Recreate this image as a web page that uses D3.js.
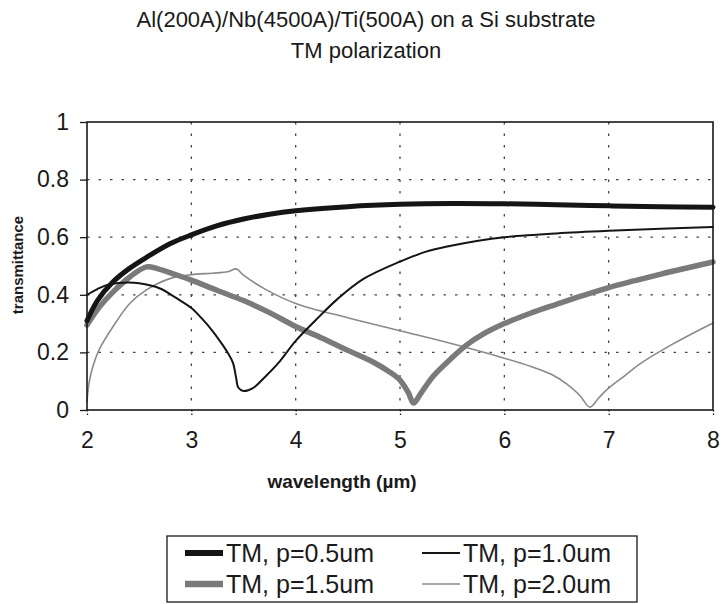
<!DOCTYPE html>
<html><head><meta charset="utf-8">
<script src="https://cdn.jsdelivr.net/npm/d3@7/dist/d3.min.js"></script>
<style>body{margin:0;background:#fff;} svg{display:block;font-family:"Liberation Sans",Arial,sans-serif;}</style>
</head><body>
<svg id="c" width="723" height="604"></svg>
<script>
// ---- data ----
const titleLines = ["Al(200A)/Nb(4500A)/Ti(500A) on a Si substrate", "TM polarization"];
const xTicks = [2, 3, 4, 5, 6, 7, 8];
const yTicks = [0, 0.2, 0.4, 0.6, 0.8, 1];
const yTickLabels = ["0", "0.2", "0.4", "0.6", "0.8", "1"];
const seriesNames = ["TM, p=0.5um", "TM, p=1.0um", "TM, p=1.5um", "TM, p=2.0um"];

const w05 = [2.0, 2.1, 2.25, 2.4, 2.57, 2.8, 3.0, 3.25, 3.5, 3.75, 4.0, 4.5, 5.0, 5.5, 6.0, 6.5, 7.0, 7.5, 8.0];
const t05 = [0.31, 0.38, 0.445, 0.49, 0.53, 0.578, 0.608, 0.64, 0.663, 0.68, 0.692, 0.706, 0.714, 0.717, 0.716, 0.713, 0.709, 0.706, 0.704];

const w10 = [2.0, 2.1, 2.2, 2.35, 2.5, 2.7, 2.85, 3.0, 3.1, 3.2, 3.3, 3.36, 3.4, 3.43, 3.45, 3.5, 3.59, 3.72, 3.85, 4.0, 4.2, 4.4, 4.65, 5.0, 5.25, 5.5, 5.75, 6.0, 6.5, 7.0, 7.5, 8.0];
const t10 = [0.40, 0.42, 0.435, 0.442, 0.44, 0.422, 0.39, 0.354, 0.318, 0.276, 0.226, 0.192, 0.163, 0.110, 0.078, 0.066, 0.076, 0.12, 0.17, 0.24, 0.315, 0.385, 0.455, 0.515, 0.55, 0.571, 0.588, 0.60, 0.613, 0.622, 0.629, 0.635];

const w15 = [2.0, 2.12, 2.25, 2.41, 2.57, 2.68, 2.85, 3.0, 3.25, 3.5, 3.75, 4.0, 4.25, 4.5, 4.75, 4.9, 5.0, 5.08, 5.13, 5.2, 5.32, 5.5, 5.64, 5.8, 6.0, 6.25, 6.5, 6.75, 7.0, 7.25, 7.5, 7.75, 8.0];
const t15 = [0.295, 0.358, 0.41, 0.462, 0.497, 0.49, 0.47, 0.451, 0.415, 0.38, 0.338, 0.29, 0.25, 0.207, 0.165, 0.132, 0.104, 0.06, 0.024, 0.058, 0.118, 0.182, 0.226, 0.264, 0.30, 0.336, 0.367, 0.397, 0.425, 0.449, 0.472, 0.493, 0.514];

const w20 = [2.0, 2.02, 2.06, 2.12, 2.25, 2.41, 2.57, 2.8, 3.0, 3.2, 3.35, 3.43, 3.5, 3.72, 4.0, 4.5, 5.0, 5.5, 6.0, 6.25, 6.45, 6.6, 6.72, 6.82, 6.9, 6.98, 7.15, 7.3, 7.6, 8.0];
const t20 = [0.03, 0.095, 0.155, 0.212, 0.29, 0.37, 0.417, 0.457, 0.47, 0.475, 0.48, 0.49, 0.468, 0.417, 0.37, 0.32, 0.275, 0.23, 0.18, 0.152, 0.124, 0.09, 0.052, 0.01, 0.04, 0.07, 0.118, 0.16, 0.226, 0.302];

// ---- build ----
const svg = d3.select("#c");
const L = 87, R = 713, T = 122, B = 410;
const x = d3.scaleLinear().domain([2, 8]).range([L, R]);
const y = d3.scaleLinear().domain([0, 1]).range([B, T]);
const ink = "#1a1a1a";

// title
svg.append("g").selectAll("text").data(titleLines).join("text")
  .attr("x", 366).attr("y", (d, i) => 27 + i * 31)
  .attr("text-anchor", "middle").attr("font-size", 22).attr("fill", ink).text(d => d);

// grid
const grid = svg.append("g").attr("stroke", "#444").attr("stroke-width", 1.3).attr("stroke-dasharray", "2.5,9");
grid.selectAll("line.h").data(yTicks.filter(v => v > 0 && v < 1)).join("line")
  .attr("x1", L).attr("x2", R).attr("y1", d => y(d)).attr("y2", d => y(d));
grid.selectAll("line.v").data(xTicks.filter(v => v > 2 && v < 8)).join("line")
  .attr("x1", d => x(d)).attr("x2", d => x(d)).attr("y1", T).attr("y2", B);

// axes
const yAxis = d3.axisLeft(y).tickValues(yTicks).tickSize(7).tickPadding(11)
  .tickFormat((d, i) => yTickLabels[i]);
const gy = svg.append("g").attr("transform", `translate(${L},0)`).call(yAxis);
gy.select(".domain").remove();
gy.selectAll(".tick line").attr("stroke", ink).attr("stroke-width", 1.3);
gy.selectAll("text").attr("font-size", 23).attr("fill", ink).attr("font-family", "Liberation Sans, Arial, sans-serif");

const xAxis = d3.axisBottom(x).tickValues(xTicks).tickSize(5).tickPadding(17).tickFormat(d3.format("d"));
const gx = svg.append("g").attr("transform", `translate(0,${B})`).call(xAxis);
gx.select(".domain").remove();
gx.selectAll(".tick line").attr("stroke", ink).attr("stroke-width", 1.3).attr("stroke-dasharray", "1.5,2");
gx.selectAll("text").attr("font-size", 23).attr("fill", ink).attr("font-family", "Liberation Sans, Arial, sans-serif");

// series
const series = [
  {w: w05, t: t05, color: "#151515", width: 5},
  {w: w10, t: t10, color: "#151515", width: 2},
  {w: w15, t: t15, color: "#7a7a7a", width: 5.5},
  {w: w20, t: t20, color: "#8a8a8a", width: 1.6}
];
const line = d3.line().x(d => x(d[0])).y(d => y(d[1])).curve(d3.curveCatmullRom.alpha(0.5));
const lg = svg.append("g").attr("fill", "none").attr("stroke-linejoin", "round").attr("stroke-linecap", "round");
[3, 2, 1, 0].forEach(i => {
  const s = series[i];
  lg.append("path").datum(s.w.map((v, k) => [v, s.t[k]]))
    .attr("d", line).attr("stroke", s.color).attr("stroke-width", s.width);
});

// frame
svg.append("rect").attr("x", L).attr("y", T).attr("width", R - L).attr("height", B - T)
  .attr("fill", "none").attr("stroke", ink).attr("stroke-width", 1.6);

// axis titles
svg.append("text").attr("x", 342).attr("y", 488).attr("text-anchor", "middle")
  .attr("font-size", 19).attr("font-weight", "bold").attr("fill", ink).text("wavelength (µm)");
svg.append("text").attr("transform", "translate(23,265) rotate(-90)").attr("text-anchor", "middle")
  .attr("font-size", 15).attr("font-weight", "bold").attr("fill", ink).text("transmittance");

// legend
const leg = svg.append("g");
leg.append("rect").attr("x", 167).attr("y", 536).attr("width", 470).attr("height", 66)
  .attr("fill", "#fff").attr("stroke", ink).attr("stroke-width", 1.3);
const pos = [[185, 553, 226], [422, 553, 463], [185, 584, 226], [422, 584, 463]];
seriesNames.forEach((n, i) => {
  const [px, py, tx] = pos[i];
  leg.append("line").attr("x1", px).attr("x2", tx - 3).attr("y1", py).attr("y2", py)
    .attr("stroke", series[i].color).attr("stroke-width", series[i].width + (series[i].width > 3 ? 1 : 0));
  leg.append("text").attr("x", tx).attr("y", py + 9).attr("font-size", 25).attr("fill", ink).text(n);
});
</script>
</body></html>
